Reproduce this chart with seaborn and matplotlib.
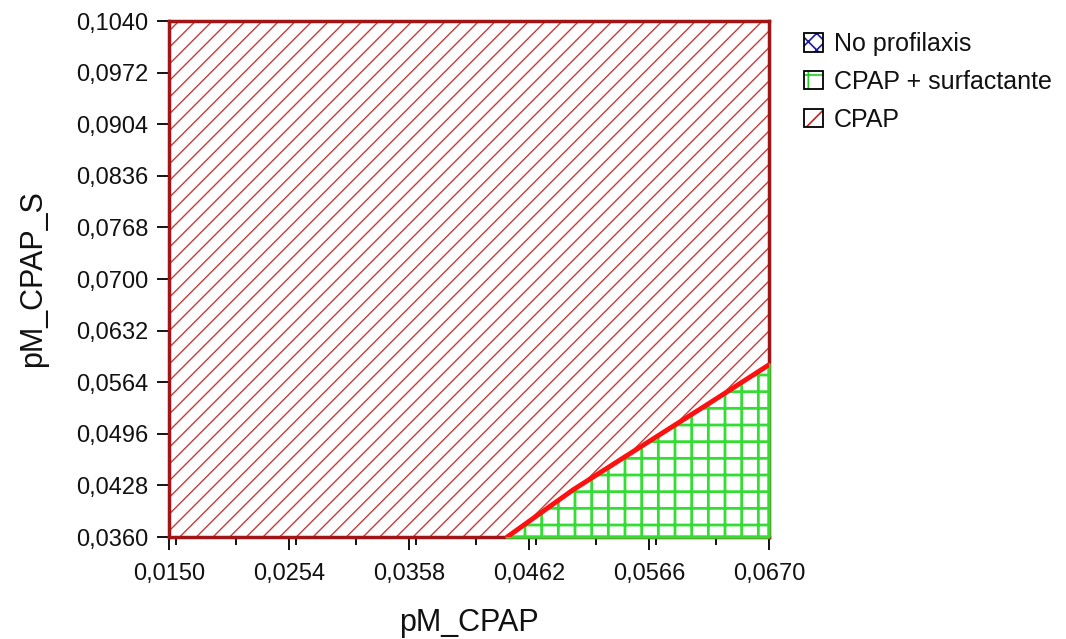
import numpy as np
import pandas as pd
import matplotlib
matplotlib.use("Agg")
import matplotlib.pyplot as plt
import seaborn as sns
from matplotlib.patches import Patch
from matplotlib.legend_handler import HandlerTuple
from matplotlib.ticker import FuncFormatter, MultipleLocator

# boundary between CPAP and CPAP + surfactante
boundary_x = [0.0443, 0.0500, 0.0564, 0.0620, 0.0670]
boundary_y = [0.0360, 0.0422, 0.0484, 0.0538, 0.0587]

x_ticks = [0.0150, 0.0254, 0.0358, 0.0462, 0.0566, 0.0670]
y_ticks = [0.0360, 0.0428, 0.0496, 0.0564, 0.0632, 0.0700,
           0.0768, 0.0836, 0.0904, 0.0972, 0.1040]

legend_labels = ["No profilaxis", "CPAP + surfactante", "CPAP"]

sns.set_style("ticks")
plt.rcParams['font.family'] = ['Liberation Sans', 'DejaVu Sans']
plt.rcParams['text.color'] = '#111111'
plt.rcParams['axes.labelcolor'] = '#111111'
plt.rcParams['xtick.labelcolor'] = '#111111'
plt.rcParams['ytick.labelcolor'] = '#111111'

df = pd.DataFrame({"pM_CPAP": boundary_x, "pM_CPAP_S": boundary_y})

fig = plt.figure(figsize=(10.66, 6.39), dpi=100)
ax = fig.add_axes([0.1585, 0.1596, 0.5629, 0.8075])

xmin, xmax = x_ticks[0], x_ticks[-1]
ymin, ymax = y_ticks[0], y_ticks[-1]

# CPAP region (above the boundary)
cx = [xmin] + boundary_x
cy = [ymin] + boundary_y
plt.rcParams['hatch.linewidth'] = 1.0
ax.fill_between(cx, cy, ymax, facecolor="white", edgecolor="#c83c3c",
                hatch="//", linewidth=0)

# CPAP + surfactante region (below the boundary)
plt.rcParams['hatch.linewidth'] = 2.0
ax.fill_between(boundary_x, ymin, boundary_y, facecolor="white",
                edgecolor="#33dd33", hatch="+", linewidth=2.5, clip_on=False,
                zorder=3)

sns.lineplot(data=df, x="pM_CPAP", y="pM_CPAP_S", ax=ax, color="#ff1010",
             linewidth=3.5, zorder=4)

ax.set_xlim(xmin, xmax)
ax.set_ylim(ymin, ymax)
ax.set_xticks(x_ticks)
ax.set_yticks(y_ticks)
ax.xaxis.set_minor_locator(MultipleLocator(0.0052))

fmt = FuncFormatter(lambda v, p: f"{v:.4f}".replace(".", ","))
ax.xaxis.set_major_formatter(fmt)
ax.yaxis.set_major_formatter(fmt)

for s in ["top", "right", "left", "bottom"]:
    ax.spines[s].set_color("#a01515")
    ax.spines[s].set_linewidth(2.5)

ax.tick_params(axis="both", which="major", length=9, width=1.3,
               color="black", labelsize=17, pad=6)
ax.tick_params(axis="x", which="minor", length=6, width=1.3, color="black")
ax.tick_params(axis="x", which="major", pad=10)

ax.set_xlabel("pM_CPAP", fontsize=22, labelpad=16)
ax.set_ylabel("pM_CPAP_S", fontsize=22, labelpad=20)

# legend handles: coloured hatch inside a black box
plt.rcParams['hatch.linewidth'] = 1.2
hatch_specs = [("#1a1aa0", "xx"), ("#22cc22", "+"), ("#cc2222", "/")]
handles = []
for col, hatch in hatch_specs:
    inner = Patch(facecolor="white", edgecolor=col, hatch=hatch, linewidth=0)
    box = Patch(facecolor="none", edgecolor="black", linewidth=1.3)
    handles.append((inner, box))

leg = fig.legend(handles, legend_labels, loc="upper left",
                 bbox_to_anchor=(0.733, 0.985), frameon=False, fontsize=18,
                 handlelength=0.75, handleheight=0.75, handletextpad=0.45,
                 labelspacing=0.55,
                 handler_map={tuple: HandlerTuple(ndivide=1, pad=0)})

fig.savefig("out.png", dpi=100)
